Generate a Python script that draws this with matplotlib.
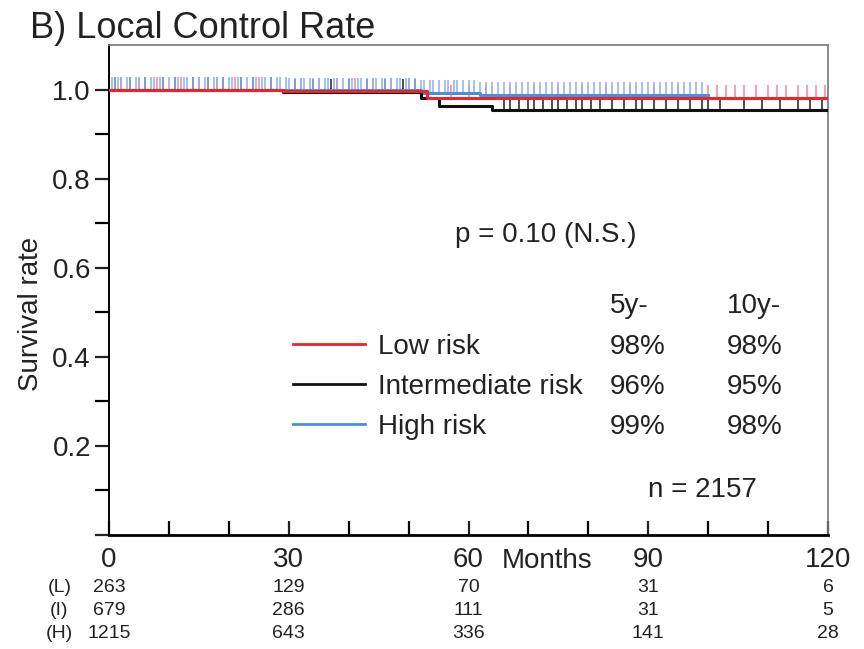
import numpy as np
import matplotlib
matplotlib.use("Agg")
import matplotlib.pyplot as plt
from matplotlib.ticker import MultipleLocator, FixedLocator, FuncFormatter

plt.rcParams['font.family'] = ['Liberation Sans', 'DejaVu Sans']

# ---- data ----
GROUPS = ['Low risk', 'Intermediate risk', 'High risk']
COLORS = ['#e8242c', '#111111', '#4a8fdc']
CENSOR_COLORS = ['#f08aa0', '#222222', '#8fb0f0']
Z_ORDER = [5, 4, 3]

# step curves (time in months, survival)
low_t = [0, 29, 53, 120]
low_s = [1.0, 0.997, 0.982, 0.982]
mid_t = [0, 29, 52, 55, 64, 120]
mid_s = [1.0, 0.995, 0.98, 0.963, 0.955, 0.955]
high_t = [0, 30, 52, 62, 100]
high_s = [1.0, 0.998, 0.993, 0.987, 0.987]

# censored observations (months)
low_cens = [2, 5, 8, 12, 15, 18, 21, 25, 32, 35, 38, 41, 44, 47, 50, 57, 60,
            63, 67, 71, 75, 79, 83, 87, 91, 95, 100, 101.5, 103, 104.5, 106,
            108, 110, 111.5, 113, 115, 116.5, 118, 119.5]
mid_cens = [1, 3.5, 6, 9, 11, 14, 16.5, 19, 22, 24, 27, 31, 34, 37, 40, 43,
            46, 49, 51, 66, 67, 68.5, 70, 71, 72.5, 74, 75, 76.5, 78, 79,
            80.5, 82, 84, 86, 88, 89, 91, 93, 95, 97, 99, 100, 102, 106,
            109, 112, 115, 117, 119]
high_cens = [0.5, 1, 1.5, 2, 3, 3.5, 4.5, 5, 6, 7, 7.5, 8.5, 9, 10, 11, 11.5,
             12.5, 13, 14, 15, 16, 16.5, 17.5, 18, 19, 20, 20.5, 21.5, 22, 23,
             24, 24.5, 25.5, 26, 27, 28, 28.5, 29.5, 30, 31, 32, 32.5, 33.5,
             34, 35, 36, 36.5, 37.5, 38, 39, 40, 40.5, 41.5, 42, 43, 44, 44.5,
             45.5, 46, 47, 48, 48.5, 49.5, 50, 51, 52, 52.5, 53.5, 54, 55, 56,
             56.5, 57.5, 58, 59, 60, 61, 62, 63, 64, 65, 66, 67, 68, 69, 70,
             71, 72, 73, 74, 75, 76, 77, 78, 79, 80, 81, 82, 83, 84, 85, 86,
             87, 88, 89, 90, 91, 92, 93, 94, 95, 96, 97, 98, 99]

RATE_5Y = ['98%', '96%', '99%']
RATE_10Y = ['98%', '95%', '98%']
N_TOTAL = 2157
P_TEXT = 'p = 0.10 (N.S.)'

RISK_TIMES = [0, 30, 60, 90, 120]
RISK_LABELS = ['(L)', '(I)', '(H)']
RISK_L = [263, 129, 70, 31, 6]
RISK_I = [679, 286, 111, 31, 5]
RISK_H = [1215, 643, 336, 141, 28]

curves = [(low_t, low_s, low_cens), (mid_t, mid_s, mid_cens),
          (high_t, high_s, high_cens)]
risk_rows = [RISK_L, RISK_I, RISK_H]

# ---- figure ----
W, H = 864, 649
fig = plt.figure(figsize=(W / 100, H / 100), dpi=100)
ax = fig.add_axes([109 / W, 1 - 535 / H, (828 - 109) / W, (535 - 45) / H])
ax.set_xlim(0, 120)
ax.set_ylim(0, 1.10)

TICK_H = 0.029
for (t, s, cens), col, ccol, z in zip(curves, COLORS, CENSOR_COLORS, Z_ORDER):
    t = np.asarray(t, float)
    s = np.asarray(s, float)
    ax.step(t, s, where='post', color=col, lw=2.2, zorder=z)
    c = np.asarray(cens, float)
    sc = s[np.searchsorted(t, c, side='right') - 1]
    ax.vlines(c, sc, sc + TICK_H, color=ccol, lw=1.4, alpha=0.8, zorder=2)

# spines
for side in ['top', 'right']:
    ax.spines[side].set_color('#777777')
    ax.spines[side].set_linewidth(1.2)
ax.spines['left'].set_linewidth(1.4)
ax.spines['bottom'].set_linewidth(2.0)

# ticks
ax.xaxis.set_major_locator(MultipleLocator(30))
ax.xaxis.set_minor_locator(MultipleLocator(10))
ax.tick_params(axis='x', which='both', direction='in', length=10, width=1.6,
               labelsize=20, pad=8.5)
ax.yaxis.set_major_locator(FixedLocator([0, 0.2, 0.4, 0.6, 0.8, 1.0]))
ax.yaxis.set_minor_locator(FixedLocator([0.1, 0.3, 0.5, 0.7, 0.9]))
ax.yaxis.set_major_formatter(FuncFormatter(lambda v, p: '' if v == 0 else f'{v:.1f}'))
ax.tick_params(axis='y', which='both', direction='out', length=10, width=1.6,
               labelsize=20, pad=3)
ax.tick_params(axis='both', colors='#222222', labelcolor='#222222')

# annotations inside the axes (axes fraction)
ax.text(0.481, 0.598, P_TEXT, transform=ax.transAxes, fontsize=20,
        color='#222222')
ax.text(0.697, 0.453, '5y-', transform=ax.transAxes, fontsize=20,
        color='#222222')
ax.text(0.8595, 0.453, '10y-', transform=ax.transAxes, fontsize=20,
        color='#222222')
rows_y = [0.369, 0.288, 0.206]
for name, col, r5, r10, yb in zip(GROUPS, COLORS, RATE_5Y, RATE_10Y, rows_y):
    ax.plot([0.256, 0.356], [yb + 0.02, yb + 0.02], transform=ax.transAxes,
            color=col, lw=2.0, clip_on=False)
    ax.text(0.374, yb, name, transform=ax.transAxes, fontsize=20,
            color='#222222')
    ax.text(0.697, yb, r5, transform=ax.transAxes, fontsize=20,
            color='#222222')
    ax.text(0.8595, yb, r10, transform=ax.transAxes, fontsize=20,
            color='#222222')
ax.text(0.7497, 0.078, f'n = {N_TOTAL}', transform=ax.transAxes, fontsize=20,
        color='#222222')

# x axis unit label
ax.text(65.5, -0.067, 'Months', transform=ax.get_xaxis_transform(),
        fontsize=20, color='#222222', va='baseline')

# number at risk table
tr = ax.get_xaxis_transform()
table_y = [-0.108, -0.155, -0.202]
for lab, row, yy in zip(RISK_LABELS, risk_rows, table_y):
    ax.text(-8.3, yy, lab, transform=tr, fontsize=14, ha='center',
            va='center', color='#222222')
    for t, n in zip(RISK_TIMES, row):
        ax.text(t, yy, str(n), transform=tr, fontsize=14, ha='center',
                va='center', color='#222222')

# title and y label
fig.text(30 / W, 1 - 38 / H, 'B) Local Control Rate', fontsize=26,
         va='baseline', color='#222222')
fig.text(31 / W, 1 - 314 / H, 'Survival rate', fontsize=20, rotation=90,
         ha='center', va='center', color='#222222')

fig.savefig('out.png', dpi=100)
